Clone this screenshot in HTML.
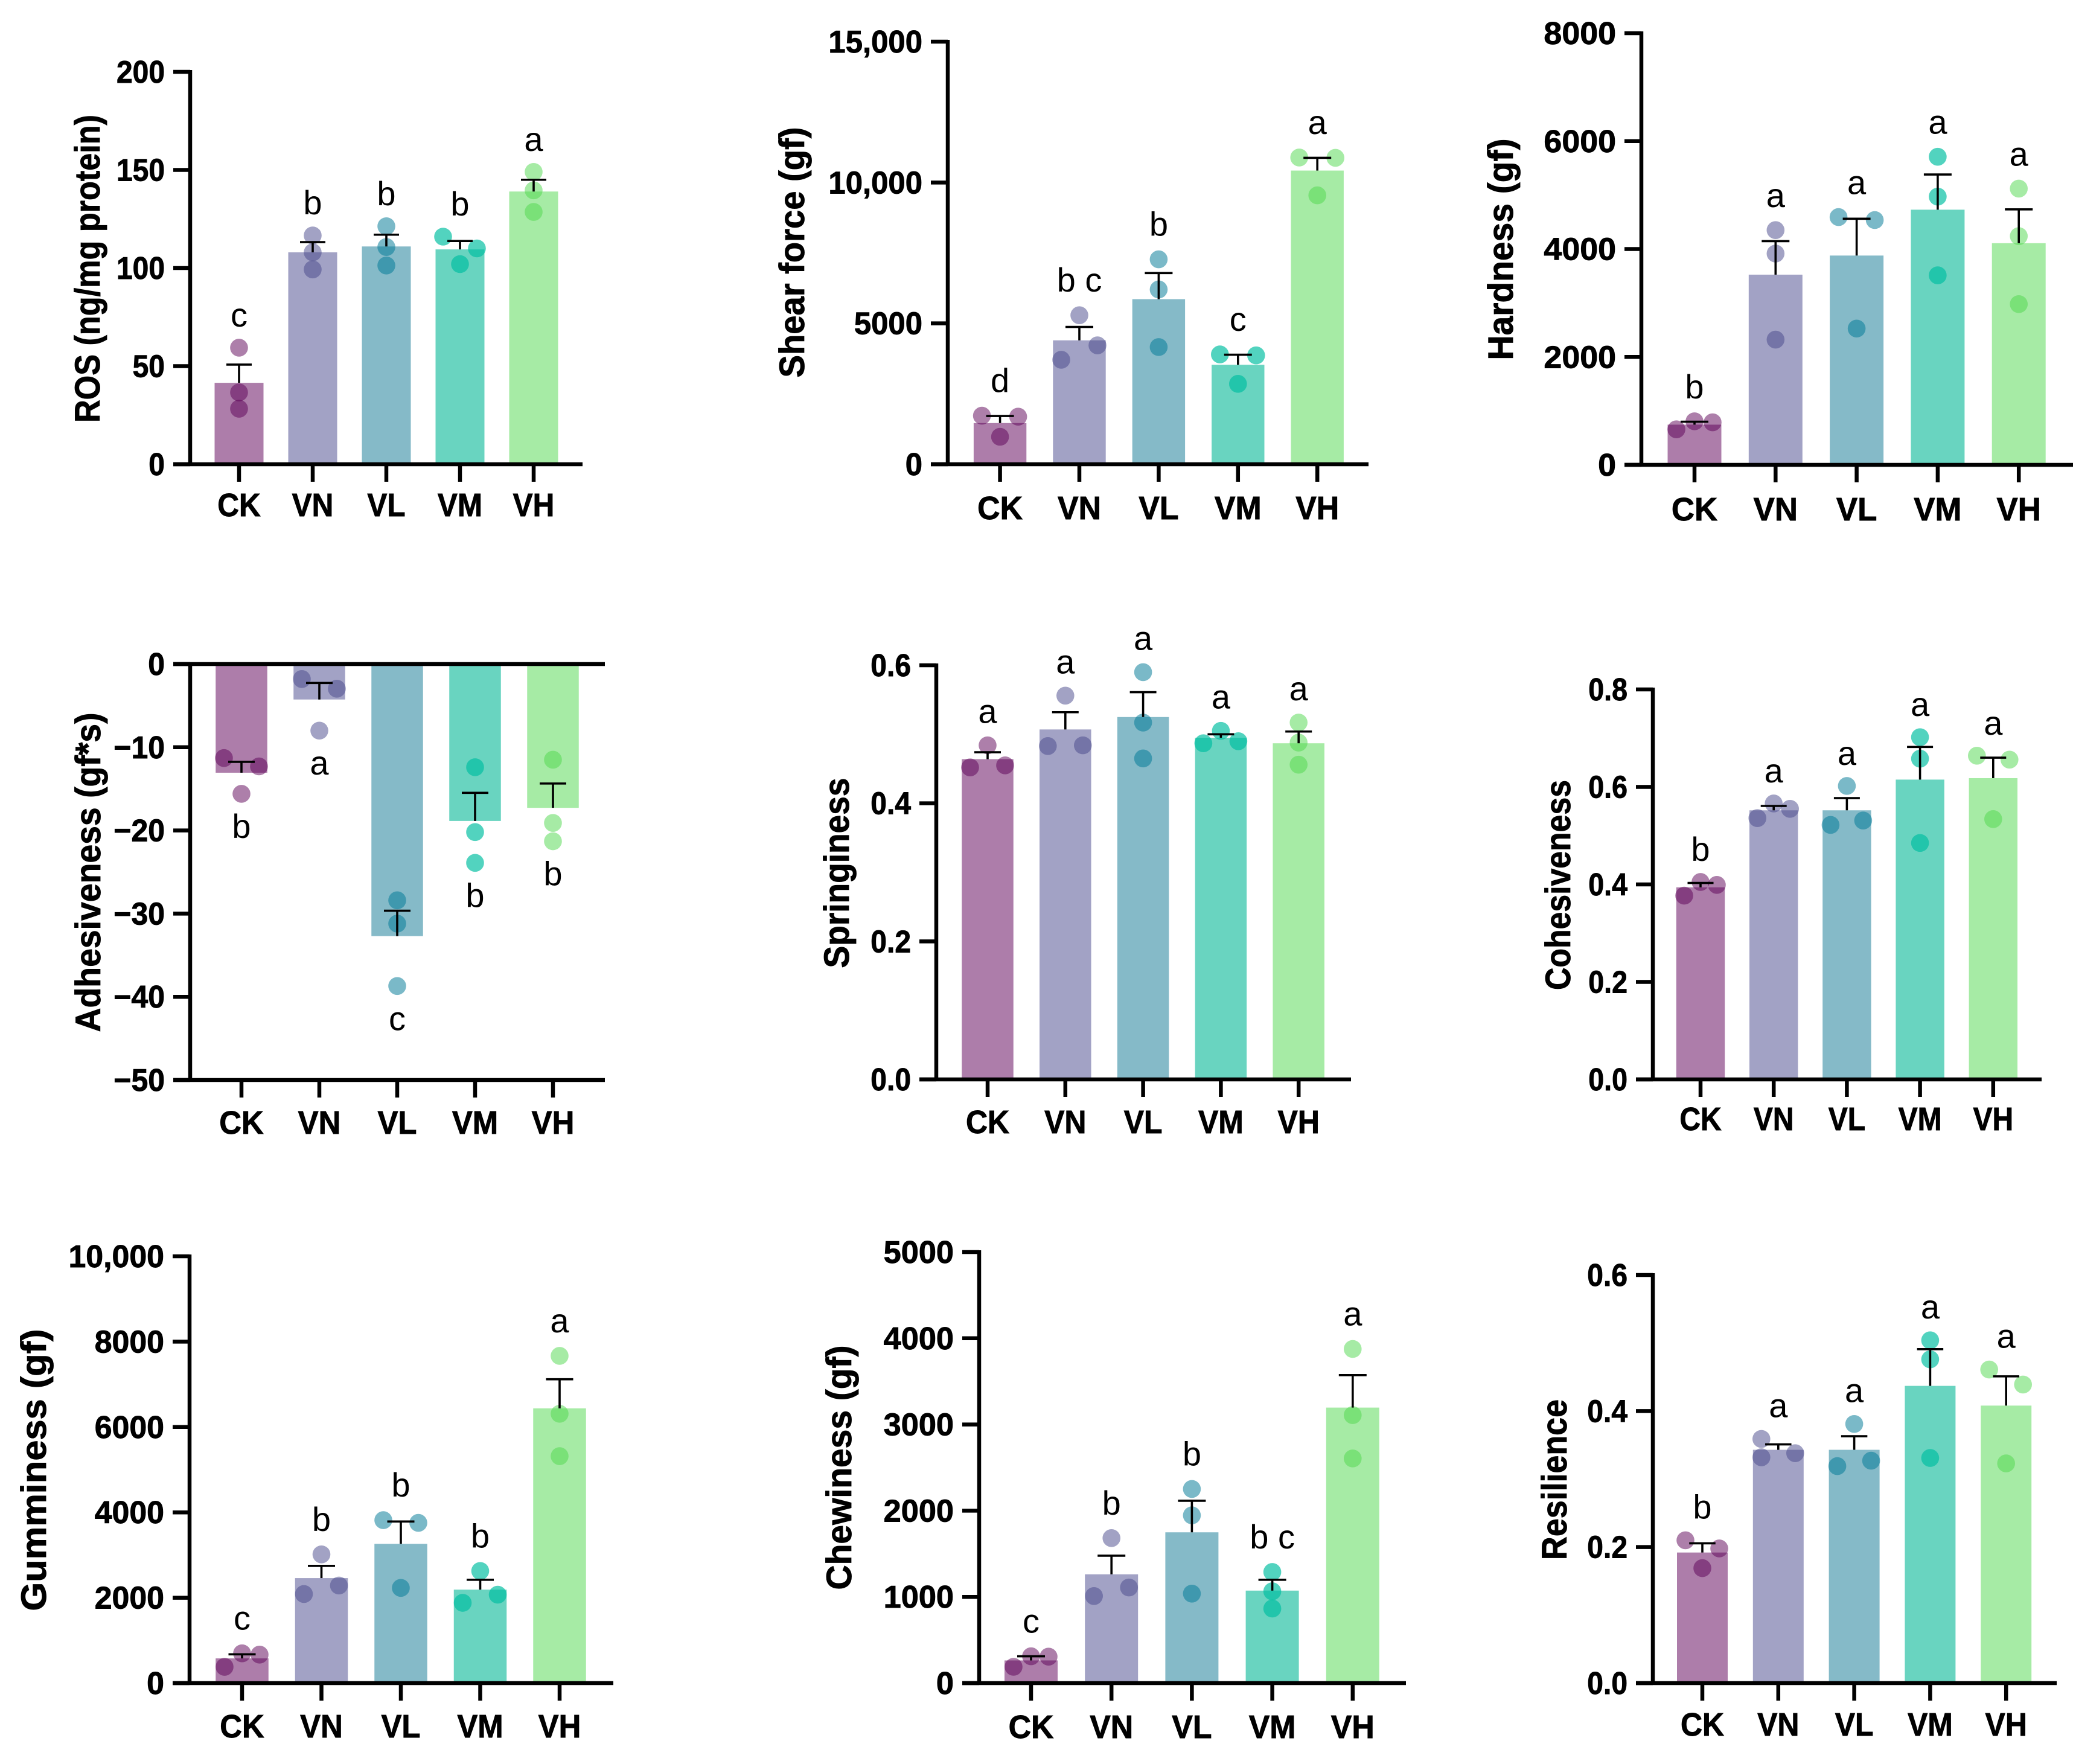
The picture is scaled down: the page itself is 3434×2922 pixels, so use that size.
<!DOCTYPE html>
<html lang="en">
<head>
<meta charset="utf-8">
<title>ROS and meat texture bar charts</title>
<style>
html,body{margin:0;padding:0;background:#fff;width:3434px;height:2922px;overflow:hidden}
svg{display:block}
text{font-family:"Liberation Sans",Arial,sans-serif;fill:#000}
.strong{stroke:#000;stroke-width:.9px}
</style>
</head>
<body>
<svg id="figure" xmlns="http://www.w3.org/2000/svg" width="3434" height="2922" viewBox="0 0 3434 2922"></svg>
<script>
const categories = ['CK', 'VN', 'VL', 'VM', 'VH'];

const rosMeans = [41.5, 108, 111, 109.5, 139];
const rosErrors = [9.3, 5.2, 6, 4.3, 6];
const rosPoints = [[59.4, 36.6, 28.3], [116.6, 108, 99.3], [121.3, 110.7, 101.3], [116, 110, 102], [149, 139.6, 128.6]];
const rosSwarm = [[0, 0, 0], [0, 0, 0], [0, 0, 0], [-1, 1, 0], [0, 0, 0]];
const rosLetters = ['c', 'b', 'b', 'b', 'a'];
const rosTicks = [0, 50, 100, 150, 200];
const rosTickLabels = ['0', '50', '100', '150', '200'];

const shearMeans = [1462, 4398, 5860, 3530, 10424];
const shearErrors = [250, 475, 927, 357, 452];
const shearPoints = [[1723, 1688, 975], [5289, 4220, 3708], [7274, 6204, 4160], [3899, 3863, 2853], [10888, 10876, 9545]];
const shearSwarm = [[-1, 1, 0], [0, 1, -1], [0, 0, 0], [-1, 1, 0], [-1, 1, 0]];
const shearLetters = ['d', 'b c', 'b', 'c', 'a'];
const shearTicks = [0, 5000, 10000, 15000];
const shearTickLabels = ['0', '5000', '10,000', '15,000'];

const hardnessMeans = [745, 3525, 3879, 4729, 4108];
const hardnessErrors = [55, 621, 682, 652, 627];
const hardnessPoints = [[658, 807, 788], [4350, 3916, 2321], [4592, 4537, 2526], [5710, 4971, 3513], [5120, 4239, 2979]];
const hardnessSwarm = [[-1, 0, 1], [0, 0, 0], [-1, 1, 0], [0, 0, 0], [0, 0, 0]];
const hardnessLetters = ['b', 'a', 'a', 'a', 'a'];
const hardnessTicks = [0, 2000, 4000, 6000, 8000];
const hardnessTickLabels = ['0', '2000', '4000', '6000', '8000'];

const adhesivenessMeans = [-13.06, -4.26, -32.7, -18.86, -17.28];
const adhesivenessErrors = [1.31, 1.99, 3.05, 3.38, 2.92];
const adhesivenessPoints = [[-11.3, -12.3, -15.6], [-1.8, -2.96, -8], [-28.4, -31.2, -38.7], [-12.4, -20.2, -23.9], [-11.5, -19.1, -21.3]];
const adhesivenessSwarm = [[-1, 1, 0], [-1, 1, 0], [0, 0, 0], [0, 0, 0], [0, 0, 0]];
const adhesivenessLetters = ['b', 'a', 'c', 'b', 'b'];
const adhesivenessTicks = [0, -10, -20, -30, -40, -50];
const adhesivenessTickLabels = ['0', '\u221210', '\u221220', '\u221230', '\u221240', '\u221250'];

const springinessMeans = [0.464, 0.507, 0.525, 0.495, 0.487];
const springinessErrors = [0.01, 0.025, 0.036, 0.005, 0.017];
const springinessPoints = [[0.484, 0.452, 0.455], [0.556, 0.483, 0.484], [0.59, 0.517, 0.465], [0.505, 0.487, 0.49], [0.517, 0.488, 0.456]];
const springinessSwarm = [[0, -1, 1], [0, -1, 1], [0, 0, 0], [0, -1, 1], [0, 0, 0]];
const springinessLetters = ['a', 'a', 'a', 'a', 'a'];
const springinessTicks = [0, 0.2, 0.4, 0.6];
const springinessTickLabels = ['0.0', '0.2', '0.4', '0.6'];

const cohesivenessMeans = [0.394, 0.552, 0.552, 0.615, 0.618];
const cohesivenessErrors = [0.009, 0.009, 0.025, 0.067, 0.042];
const cohesivenessPoints = [[0.377, 0.405, 0.399], [0.536, 0.566, 0.555], [0.602, 0.522, 0.531], [0.702, 0.658, 0.485], [0.664, 0.656, 0.534]];
const cohesivenessSwarm = [[-1, 0, 1], [-1, 0, 1], [0, -1, 1], [0, 0, 0], [-1, 1, 0]];
const cohesivenessLetters = ['b', 'a', 'a', 'a', 'a'];
const cohesivenessTicks = [0, 0.2, 0.4, 0.6, 0.8];
const cohesivenessTickLabels = ['0.0', '0.2', '0.4', '0.6', '0.8'];

const gumminessMeans = [579, 2460, 3262, 2190, 6437];
const gumminessErrors = [96, 286, 524, 231, 682];
const gumminessPoints = [[381, 698, 667], [3016, 2087, 2286], [3818, 3754, 2230], [2627, 1881, 2072], [7667, 6310, 5318]];
const gumminessSwarm = [[-1, 0, 1], [0, -1, 1], [-1, 1, 0], [0, -1, 1], [0, 0, 0]];
const gumminessLetters = ['c', 'b', 'b', 'b', 'a'];
const gumminessTicks = [0, 2000, 4000, 6000, 8000, 10000];
const gumminessTickLabels = ['0', '2000', '4000', '6000', '8000', '10,000'];

const chewinessMeans = [263, 1262, 1749, 1073, 3196];
const chewinessErrors = [48, 216, 366, 126, 377];
const chewinessPoints = [[189, 311, 307], [1682, 1010, 1109], [2252, 1946, 1038], [1289, 1065, 865], [3876, 3109, 2606]];
const chewinessSwarm = [[-1, 0, 1], [0, -1, 1], [0, 0, 0], [0, 0, 0], [0, 0, 0]];
const chewinessLetters = ['c', 'b', 'b', 'b c', 'a'];
const chewinessTicks = [0, 1000, 2000, 3000, 4000, 5000];
const chewinessTickLabels = ['0', '1000', '2000', '3000', '4000', '5000'];

const resilienceMeans = [0.192, 0.343, 0.343, 0.437, 0.408];
const resilienceErrors = [0.0135, 0.008, 0.02, 0.054, 0.043];
const resiliencePoints = [[0.21, 0.198, 0.169], [0.359, 0.332, 0.338], [0.381, 0.319, 0.327], [0.504, 0.476, 0.331], [0.461, 0.439, 0.323]];
const resilienceSwarm = [[-1, 1, 0], [-1, -1, 1], [0, -1, 1], [0, 0, 0], [-1, 1, 0]];
const resilienceLetters = ['b', 'a', 'a', 'a', 'a'];
const resilienceTicks = [0, 0.2, 0.4, 0.6];
const resilienceTickLabels = ['0.0', '0.2', '0.4', '0.6'];

const barFills = ['#ad7daa', '#a2a2c5', '#85bac8', '#69d4c0', '#a6eba5'];
const dotFills = ['#5b0055', '#454589', '#007896', '#00bea0', '#4dd74b'];
const dotOpacities = [0.5, 0.5, 0.52, 0.68, 0.5];

const panels = [
  { id: 'ros', title: 'ROS (ng/mg protein)', means: rosMeans, errors: rosErrors, points: rosPoints, swarm: rosSwarm, letters: rosLetters, ticks: rosTicks, labels: rosTickLabels,
    layout: { axisX: 315, domTop: 200, pxTop: 119, domBottom: 0, pxBottom: 769, xEnd: 965, cat0: 396, step: 122, barW: 81, capW: 42, slot: 28, gap: -35, tickSx: 1.0, catSx: 1.03, catY: 853, titleX: 165, titleY: 445, titleLen: 510 } },
  { id: 'shear-force', title: 'Shear force (gf)', means: shearMeans, errors: shearErrors, points: shearPoints, swarm: shearSwarm, letters: shearLetters, ticks: shearTicks, labels: shearTickLabels,
    layout: { axisX: 1570, domTop: 15000, pxTop: 69, domBottom: 0, pxBottom: 769, xEnd: 2267, cat0: 1656.6, step: 131.4, barW: 87.4, capW: 46, slot: 30, gap: -39, tickSx: 1.06, catSx: 1.08, catY: 858, titleX: 1332, titleY: 418, titleLen: 415 } },
  { id: 'hardness', title: 'Hardness (gf)', means: hardnessMeans, errors: hardnessErrors, points: hardnessPoints, swarm: hardnessSwarm, letters: hardnessLetters, ticks: hardnessTicks, labels: hardnessTickLabels,
    layout: { axisX: 2719, domTop: 8000, pxTop: 55, domBottom: 0, pxBottom: 770, xEnd: 3434, cat0: 2807, step: 134.3, barW: 89, capW: 46, slot: 30, gap: -38, tickSx: 1.12, catSx: 1.1, catY: 860, titleX: 2506, titleY: 413, titleLen: 367 } },
  { id: 'adhesiveness', title: 'Adhesiveness (gf*s)', means: adhesivenessMeans, errors: adhesivenessErrors, points: adhesivenessPoints, swarm: adhesivenessSwarm, letters: adhesivenessLetters, ticks: adhesivenessTicks, labels: adhesivenessTickLabels,
    layout: { axisX: 315, domTop: 0, pxTop: 1100, domBottom: -50, pxBottom: 1789, xEnd: 1002, cat0: 400, step: 129, barW: 85.5, capW: 44, slot: 29, gap: 73, tickSx: 1.04, catSx: 1.06, catY: 1876, titleX: 166, titleY: 1445, titleLen: 529 } },
  { id: 'springiness', title: 'Springiness', means: springinessMeans, errors: springinessErrors, points: springinessPoints, swarm: springinessSwarm, letters: springinessLetters, ticks: springinessTicks, labels: springinessTickLabels,
    layout: { axisX: 1551, domTop: 0.6, pxTop: 1102, domBottom: 0, pxBottom: 1788, xEnd: 2238, cat0: 1636, step: 128.8, barW: 85.5, capW: 44, slot: 29, gap: -37, tickSx: 1.0, catSx: 1.04, catY: 1875, titleX: 1406, titleY: 1446, titleLen: 315 } },
  { id: 'cohesiveness', title: 'Cohesiveness', means: cohesivenessMeans, errors: cohesivenessErrors, points: cohesivenessPoints, swarm: cohesivenessSwarm, letters: cohesivenessLetters, ticks: cohesivenessTicks, labels: cohesivenessTickLabels,
    layout: { axisX: 2738, domTop: 0.8, pxTop: 1142, domBottom: 0, pxBottom: 1788, xEnd: 3382, cat0: 2817, step: 121.2, barW: 80.4, capW: 43, slot: 27, gap: -35, tickSx: 0.97, catSx: 1.0, catY: 1870, titleX: 2601, titleY: 1466, titleLen: 348 } },
  { id: 'gumminess', title: 'Gumminess (gf)', means: gumminessMeans, errors: gumminessErrors, points: gumminessPoints, swarm: gumminessSwarm, letters: gumminessLetters, ticks: gumminessTicks, labels: gumminessTickLabels,
    layout: { axisX: 314, domTop: 10000, pxTop: 2081, domBottom: 0, pxBottom: 2788, xEnd: 1016, cat0: 401, step: 131.5, barW: 87.5, capW: 45, slot: 29, gap: -39, tickSx: 1.08, catSx: 1.06, catY: 2876, titleX: 76, titleY: 2435, titleLen: 467 } },
  { id: 'chewiness', title: 'Chewiness (gf)', means: chewinessMeans, errors: chewinessErrors, points: chewinessPoints, swarm: chewinessSwarm, letters: chewinessLetters, ticks: chewinessTicks, labels: chewinessTickLabels,
    layout: { axisX: 1622, domTop: 5000, pxTop: 2074, domBottom: 0, pxBottom: 2788, xEnd: 2329, cat0: 1708, step: 133.2, barW: 88, capW: 46, slot: 29, gap: -39, tickSx: 1.09, catSx: 1.08, catY: 2877, titleX: 1410, titleY: 2431, titleLen: 405 } },
  { id: 'resilience', title: 'Resilience', means: resilienceMeans, errors: resilienceErrors, points: resiliencePoints, swarm: resilienceSwarm, letters: resilienceLetters, ticks: resilienceTicks, labels: resilienceTickLabels,
    layout: { axisX: 2738, domTop: 0.6, pxTop: 2112, domBottom: 0, pxBottom: 2788, xEnd: 3407, cat0: 2820, step: 125.8, barW: 84, capW: 43.5, slot: 28, gap: -36, tickSx: 1.0, catSx: 1.04, catY: 2873, titleX: 2595, titleY: 2451, titleLen: 266 } }
];

const SVG_NS = 'http://www.w3.org/2000/svg';
const figure = document.getElementById('figure');

function make(tag, parent, attrs, content) {
  const node = document.createElementNS(SVG_NS, tag);
  for (const key in attrs) node.setAttribute(key, attrs[key]);
  if (content !== undefined) node.textContent = content;
  parent.appendChild(node);
  return node;
}

function drawLine(parent, x1, y1, x2, y2, width) {
  return make('line', parent, { x1: x1, y1: y1, x2: x2, y2: y2, stroke: '#000', 'stroke-width': width });
}

function drawPanel(panel) {
  const L = panel.layout;
  const yScale = function (v) {
    return L.pxBottom + (v - L.domBottom) / (L.domTop - L.domBottom) * (L.pxTop - L.pxBottom);
  };
  const xScale = function (i) {
    return L.cat0 + i * L.step;
  };

  const g = make('g', figure, {});
  
  

  // bars
  panel.means.forEach(function (mean, i) {
    const y0 = yScale(0);
    const y1 = yScale(mean);
    const rect = make('rect', g, { x: xScale(i) - L.barW / 2, y: Math.min(y0, y1), width: L.barW, height: Math.abs(y1 - y0), fill: barFills[i] });
    
    
  });

  // data points
  panel.points.forEach(function (series, i) {
    series.forEach(function (value, j) {
      const dot = make('circle', g, { cx: xScale(i) + panel.swarm[i][j] * L.slot, cy: yScale(value), r: 14.8, fill: dotFills[i], 'fill-opacity': dotOpacities[i] });
      
      
    });
  });

  // error bars
  panel.errors.forEach(function (err, i) {
    const cx = xScale(i);
    const tip = yScale(panel.means[i] + err);
    const eg = make('g', g, {});
    
    
    drawLine(eg, cx, yScale(panel.means[i]), cx, tip, 3.6);
    drawLine(eg, cx - L.capW / 2, tip, cx + L.capW / 2, tip, 3.6);
  });

  // significance letters
  panel.letters.forEach(function (letter, i) {
    const vals = panel.points[i];
    const anchorValue = L.gap < 0 ? Math.max.apply(null, vals) : Math.min.apply(null, vals);
    const t = make('text', g, { x: xScale(i), y: yScale(anchorValue) + L.gap, 'text-anchor': 'middle', 'font-size': 56 }, letter);
    
    
  });

  // y axis
  const yAxis = drawLine(g, L.axisX, L.pxTop - 3, L.axisX, L.pxBottom + 3, 6.5);
  
  

  // x axis along the plot bottom
  const xAxis = drawLine(g, L.axisX - 28, L.pxBottom, L.xEnd, L.pxBottom, 6.5);
  
  

  // zero line for charts with negative values
  if (L.domBottom < 0) {
    const zero = drawLine(g, L.axisX - 28, yScale(0), L.xEnd, yScale(0), 6.5);
    
    
  }

  // y ticks and labels
  panel.ticks.forEach(function (tick, i) {
    const y = yScale(tick);
    const mark = drawLine(g, L.axisX - 28, y, L.axisX, y, 6.5);
    
    
    const label = make('text', g, { class: 'strong', transform: 'translate(' + (L.axisX - 42) + ' ' + (y + 18) + ') scale(' + (L.tickSx * 0.923) + ' 1)', 'text-anchor': 'end', 'font-size': 52, 'font-weight': 700 }, panel.labels[i]);
    
    
  });

  // category ticks and labels
  categories.forEach(function (cat, i) {
    const x = xScale(i);
    const mark = drawLine(g, x, L.pxBottom, x, L.pxBottom + 29, 6.5);
    
    
    const label = make('text', g, { class: 'strong', transform: 'translate(' + x + ' ' + (L.catY + 2) + ') scale(' + (L.catSx * 0.889) + ' 1)', 'text-anchor': 'middle', 'font-size': 54, 'font-weight': 700 }, cat);
    
    
  });

  // axis title
  const title = make('text', g, { class: 'strong', transform: 'translate(' + L.titleX + ' ' + L.titleY + ') rotate(-90)', 'text-anchor': 'middle', 'font-size': 58, 'font-weight': 700, textLength: L.titleLen, lengthAdjust: 'spacingAndGlyphs' }, panel.title);
  
  
}

panels.forEach(drawPanel);
</script>
</body>
</html>
